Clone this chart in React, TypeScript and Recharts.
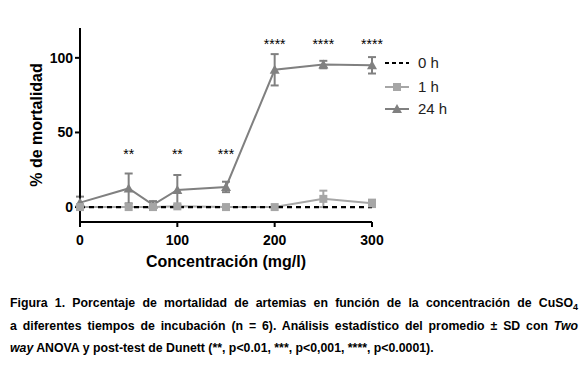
import React from 'react';
import { ComposedChart, Line, XAxis, YAxis, ErrorBar, ReferenceDot, Legend } from 'recharts';

const concentrations = [0, 50, 75, 100, 150, 200, 250, 300];
const mort0h = [0, 0, 0, 0, 0, 0, 0, 0];
const mort1h = [0, 0, 0, 0.5, 0, 0, 5.5, 2.5];
const sd1h = [0, 0, 0, 0, 0, 0, 5.5, 2.5];
const mort24h = [3, 12.5, 1.5, 11.5, 13.5, 92, 95.5, 95];
const sd24h = [4, 10, 2.5, 10, 3.5, 10.5, 2.5, 5.5];

const xTicks = [0, 100, 200, 300];
const yTicks = [0, 50, 100];

const annotX = [50, 100, 150, 200, 250, 300];
const annotY = [35.5, 35.5, 35.5, 109.5, 109.5, 109.5];
const annotText = ['**', '**', '***', '****', '****', '****'];

const seriesNames = ['0 h', '1 h', '24 h'];

const data = concentrations.map((c, i) => ({
  x: c,
  h0: mort0h[i],
  h1: mort1h[i],
  e1: sd1h[i],
  h24: mort24h[i],
  e24: sd24h[i],
}));

const GRAY24 = '#808080';
const GRAY1 = '#a6a6a6';
const FONT = '"Liberation Sans", Arial, Helvetica, sans-serif';

const Square = (props: any) => {
  const { cx, cy, index } = props;
  if (cx == null || cy == null) return <g key={'s' + index} />;
  return <rect key={'s' + index} x={cx - 4} y={cy - 4} width={8} height={8} fill={GRAY1} />;
};

const Triangle = (props: any) => {
  const { cx, cy, index } = props;
  if (cx == null || cy == null) return <g key={'t' + index} />;
  return (
    <path key={'t' + index} d={`M${cx - 5},${cy + 4} L${cx + 5},${cy + 4} L${cx},${cy - 5} Z`} fill={GRAY24} />
  );
};

const LegendContent = () => (
  <svg width={90} height={70} style={{ fontFamily: FONT }}>
    <line x1={2} x2={26} y1={11} y2={11} stroke="#000" strokeWidth={2} strokeDasharray="4 3" />
    <text x={35} y={16} fontSize={15} fill="#222">{seriesNames[0]}</text>
    <line x1={2} x2={26} y1={35} y2={35} stroke={GRAY1} strokeWidth={2} />
    <rect x={10} y={31} width={8} height={8} fill={GRAY1} />
    <text x={35} y={40} fontSize={15} fill="#222">{seriesNames[1]}</text>
    <line x1={2} x2={26} y1={57} y2={57} stroke={GRAY24} strokeWidth={2} />
    <path d="M9,61 L19,61 L14,52 Z" fill={GRAY24} />
    <text x={35} y={62} fontSize={15} fill="#222">{seriesNames[2]}</text>
  </svg>
);

const capLine = {
  fontFamily: FONT,
  fontWeight: 700,
  fontSize: 12.3,
  color: '#000',
  lineHeight: '22.5px',
  whiteSpace: 'nowrap' as const,
};

export default function App() {
  return (
    <div style={{ position: 'absolute', left: 0, top: 0, width: 583, height: 373, background: '#fff', overflow: 'hidden' }}>
      <ComposedChart
        width={583}
        height={290}
        data={data}
        margin={{ top: 28, right: 211, bottom: 28, left: 30 }}
        style={{ fontFamily: FONT }}
      >
        <XAxis
          dataKey="x"
          type="number"
          domain={[0, 300]}
          ticks={xTicks}
          axisLine={{ stroke: '#000', strokeWidth: 2 }}
          tickLine={{ stroke: '#000', strokeWidth: 2 }}
          tickSize={5}
          tickMargin={8}
          tick={{ fill: '#000', fontSize: 14, fontWeight: 700 }}
          height={40}
          label={{ value: 'Concentración (mg/l)', position: 'insideBottom', offset: -5, fill: '#000', fontSize: 16, fontWeight: 700 }}
        />
        <YAxis
          type="number"
          domain={[-10, 120]}
          ticks={yTicks}
          axisLine={{ stroke: '#000', strokeWidth: 2 }}
          tickLine={{ stroke: '#000', strokeWidth: 2 }}
          tickSize={5}
          tick={{ fill: '#000', fontSize: 14, fontWeight: 700 }}
          width={50}
          label={{ value: '% de mortalidad', angle: -90, position: 'insideLeft', offset: 0, dx: 6, fill: '#000', fontSize: 16, fontWeight: 700, style: { textAnchor: 'middle' } }}
        />
        <Legend
          layout="vertical"
          align="center"
          verticalAlign="middle"
          content={<LegendContent />}
          wrapperStyle={{ position: 'absolute', left: 383, top: 52, width: 90, height: 70 }}
        />
        <Line dataKey="h24" name={seriesNames[2]} stroke={GRAY24} strokeWidth={2} dot={Triangle} activeDot={false} isAnimationActive={false}>
          <ErrorBar dataKey="e24" direction="y" width={4} stroke={GRAY24} strokeWidth={2} />
        </Line>
        <Line dataKey="h1" name={seriesNames[1]} stroke={GRAY1} strokeWidth={2} dot={Square} activeDot={false} isAnimationActive={false}>
          <ErrorBar dataKey="e1" direction="y" width={4} stroke={GRAY1} strokeWidth={2} />
        </Line>
        <Line dataKey="h0" name={seriesNames[0]} stroke="#000" strokeWidth={2.2} strokeDasharray="5 4" dot={false} activeDot={false} isAnimationActive={false} />
        {annotX.map((ax, i) => (
          <ReferenceDot
            key={'a' + i}
            x={ax}
            y={annotY[i]}
            r={0}
            fill="none"
            stroke="none"
            label={{ value: annotText[i], position: 'center', fill: '#000', fontSize: 14 }}
          />
        ))}
      </ComposedChart>
      <div style={{ position: 'absolute', left: 10, top: 292, width: 568 }}>
        <div style={{ ...capLine, textAlign: 'justify', textAlignLast: 'justify' }}>
          Figura 1. Porcentaje de mortalidad de artemias en función de la concentración de CuSO<sub style={{ fontSize: 9, lineHeight: 0 }}>4</sub>
        </div>
        <div style={{ ...capLine, textAlign: 'justify', textAlignLast: 'justify' }}>
          a diferentes tiempos de incubación (n = 6). Análisis estadístico del promedio ± SD con <i>Two</i>
        </div>
        <div style={capLine}>
          <i>way</i> ANOVA y post-test de Dunett (**, p&lt;0.01, ***, p&lt;0,001, ****, p&lt;0.0001).
        </div>
      </div>
    </div>
  );
}
